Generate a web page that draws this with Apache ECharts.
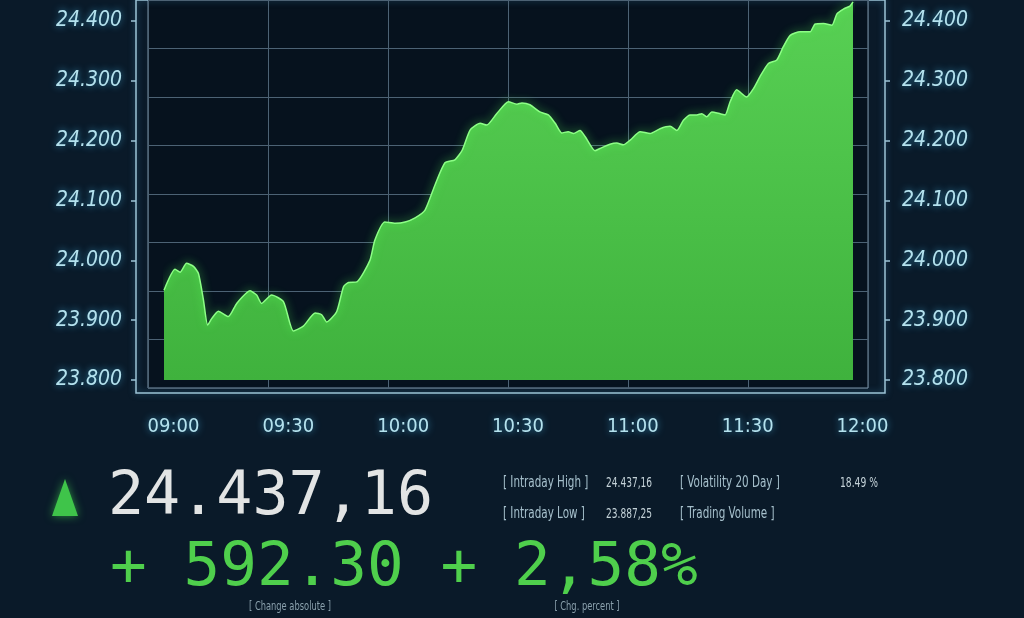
<!DOCTYPE html>
<html>
<head>
<meta charset="utf-8">
<style>
html,body{margin:0;padding:0;background:#0a1a29;}
#c{width:1024px;height:618px;}
</style>
<script src="https://cdn.jsdelivr.net/npm/echarts@6/dist/echarts.min.js"></script>
</head>
<body>
<div id="c"></div>
<script>
// minutes since 09:00
var minutes = [0,2.9,4.2,5.9,7.7,9.0,10.3,11.4,12.5,14.2,16.8,19.0,22.5,24.2,25.5,28.1,31.2,33.8,36.4,39.5,41.2,42.5,45.1,46.9,48.2,50.4,53.8,55.1,57.7,60.4,63.0,65.6,68.2,70.8,73.4,76.0,77.9,80.0,82.6,84.3,86.9,90.0,92.2,93.5,95.6,98.2,100.4,102.2,103.9,105.6,107.0,108.7,110.0,112.6,113.9,116.5,118.3,120.0,121.8,124.4,127.0,129.6,132.2,134.0,135.7,137.5,139.2,140.5,141.8,143.1,145.3,146.6,147.9,149.6,152.2,154.0,155.7,157.9,160.1,161.8,163.6,166.2,168.8,170.1,172.3,174.5,175.8,177.5,179.2,180];
var prices = [23950,23985,23980,23995,23990,23978,23934,23892,23903,23915,23906,23928,23949,23942,23928,23942,23931,23882,23890,23912,23909,23897,23914,23956,23963,23964,24000,24034,24064,24062,24064,24071,24084,24126,24163,24168,24184,24218,24229,24226,24245,24265,24261,24263,24260,24248,24243,24229,24213,24215,24212,24217,24207,24183,24187,24194,24196,24193,24201,24215,24212,24220,24224,24217,24234,24243,24243,24245,24240,24248,24245,24243,24265,24285,24273,24287,24307,24329,24335,24357,24376,24382,24382,24395,24396,24393,24412,24420,24425,24432];
var yTicks = {min: 23800, max: 24400, step: 100};
var xTicks = {min: 0, max: 180, step: 30};
var lastPrice = '24.437,16';
var changeLine = '+ 592.30 + 2,58%';
var captions = ['[ Change absolute ]', '[ Chg. percent ]'];
var infoLabels = ['[ Intraday High ]', '[ Intraday Low ]', '[ Volatility 20 Day ]', '[ Trading Volume ]'];
var infoValues = ['24.437,16', '23.887,25', '18.49 %', ''];

var seriesData = minutes.map(function (m, i) { return [m, prices[i]]; });

var narrow = "'Liberation Sans Narrow','DejaVu Sans Condensed','Liberation Sans',sans-serif";
var mono = "'DejaVu Sans Mono','Liberation Mono',monospace";
var axisText = '#b4e2ee';
var glow = 'rgba(70,190,240,0.75)';

function fmtTime(v) {
  var h = 9 + Math.floor(v / 60), m = v % 60;
  return (h < 10 ? '0' : '') + h + ':' + (m < 10 ? '0' : '') + m;
}

var chart = echarts.init(document.getElementById('c'), null, {renderer: 'canvas'});

function txt(x, y, text, font, fill, align, vAlign, shadow, sx) {
  return {
    type: 'text', x: x, y: y, silent: true, z: 10, scaleX: sx || 1,
    style: {
      text: text, font: font, fill: fill,
      align: align, verticalAlign: vAlign,
      textAlign: align, textVerticalAlign: vAlign,
      shadowColor: shadow || 'transparent', shadowBlur: shadow ? 8 : 0
    }
  };
}

var lblShadow = 'rgba(90,180,230,0.4)';
var graphics = [
  {type: 'polygon', silent: true, z: 10,
   shape: {points: [[52, 516], [65, 479], [78, 516]]},
   style: {fill: '#3fc44a', shadowColor: 'rgba(80,255,90,0.5)', shadowBlur: 8}},
  txt(108, 498, lastPrice, '60px ' + mono, '#e2e4e4', 'left', 'middle', 'rgba(255,255,255,0.35)'),
  txt(110, 569, changeLine, '61px ' + mono, '#4fcf4c', 'left', 'middle', 'rgba(80,255,80,0.45)'),
  txt(290, 607, captions[0], '12px ' + narrow, '#8aa0ac', 'center', 'middle', null, 0.77),
  txt(587, 607, captions[1], '12px ' + narrow, '#8aa0ac', 'center', 'middle', null, 0.77),
  txt(503, 483, infoLabels[0], '15px ' + narrow, '#a6c0cc', 'left', 'middle', lblShadow, 0.77),
  txt(503, 514, infoLabels[1], '15px ' + narrow, '#a6c0cc', 'left', 'middle', lblShadow, 0.77),
  txt(680, 483, infoLabels[2], '15px ' + narrow, '#a6c0cc', 'left', 'middle', lblShadow, 0.77),
  txt(680, 514, infoLabels[3], '15px ' + narrow, '#a6c0cc', 'left', 'middle', lblShadow, 0.77),
  txt(606, 483, infoValues[0], '14px ' + narrow, '#c4d2d8', 'left', 'middle', null, 0.72),
  txt(606, 514, infoValues[1], '14px ' + narrow, '#c4d2d8', 'left', 'middle', null, 0.72),
  txt(840, 483, infoValues[2], '14px ' + narrow, '#c4d2d8', 'left', 'middle', null, 0.73)
];

var yLabel = {color: axisText, fontFamily: narrow, fontSize: 21, fontStyle: 'italic',
  formatter: function (v) { return (v / 1000).toFixed(3); },
  textShadowColor: glow, textShadowBlur: 7};

var option = {
  backgroundColor: '#0a1a29',
  animation: false,
  grid: [
    {left: 164, right: 171, top: 21, bottom: 238},
    {left: 148, right: 156, top: -22.3, bottom: 230, show: true,
     backgroundColor: '#06121e', borderColor: '#7a93a6', borderWidth: 1},
    {left: 136, right: 139, top: -10, bottom: 225, show: true,
     backgroundColor: 'transparent', borderColor: '#9cc3d6', borderWidth: 1.5,
     shadowColor: 'rgba(90,190,240,0.5)', shadowBlur: 6}
  ],
  xAxis: [
    {type: 'value', gridIndex: 0, min: xTicks.min, max: xTicks.max, interval: xTicks.step,
     axisLine: {show: false, onZero: false}, axisTick: {show: false}, splitLine: {show: false},
     axisLabel: {formatter: fmtTime, margin: 37, padding: [0, 0, 0, 19],
       color: axisText, fontFamily: narrow, fontSize: 20,
       textShadowColor: glow, textShadowBlur: 7}},
    {type: 'value', gridIndex: 1, min: 0, max: 6, interval: 1,
     axisLine: {show: false}, axisTick: {show: false}, axisLabel: {show: false},
     splitLine: {show: true, lineStyle: {color: '#4c6274', width: 1}}},
    {type: 'value', gridIndex: 2, min: 0, max: 1, show: false}
  ],
  yAxis: [
    {type: 'value', gridIndex: 0, position: 'left', offset: 28,
     min: yTicks.min, max: yTicks.max, interval: yTicks.step,
     axisLine: {show: false, onZero: false}, splitLine: {show: false},
     axisTick: {show: true, length: 5, lineStyle: {color: '#9cc3d6', width: 1.5}},
     axisLabel: Object.assign({margin: 14}, yLabel)},
    {type: 'value', gridIndex: 0, position: 'right', offset: 32,
     min: yTicks.min, max: yTicks.max, interval: yTicks.step,
     axisLine: {show: false, onZero: false}, splitLine: {show: false},
     axisTick: {show: true, length: 5, lineStyle: {color: '#9cc3d6', width: 1.5}},
     axisLabel: Object.assign({margin: 17}, yLabel)},
    {type: 'value', gridIndex: 1, min: 0, max: 8, interval: 1,
     axisLine: {show: false}, axisTick: {show: false}, axisLabel: {show: false},
     splitLine: {show: true, lineStyle: {color: '#4c6274', width: 1}}},
    {type: 'value', gridIndex: 2, min: 0, max: 1, show: false}
  ],
  series: [{
    type: 'line', xAxisIndex: 0, yAxisIndex: 0,
    data: seriesData, showSymbol: false, smooth: 0.2, clip: false, z: 5,
    lineStyle: {color: '#8dff86', width: 1.5, shadowColor: 'rgba(90,255,90,0.9)', shadowBlur: 8},
    areaStyle: {
      origin: 'start', opacity: 1,
      color: {type: 'linear', x: 0, y: 0, x2: 0, y2: 1,
        colorStops: [{offset: 0, color: '#58d054'}, {offset: 1, color: '#3fb23d'}]}
    }
  }],
  graphic: graphics
};
chart.setOption(option);
</script>
</body>
</html>
